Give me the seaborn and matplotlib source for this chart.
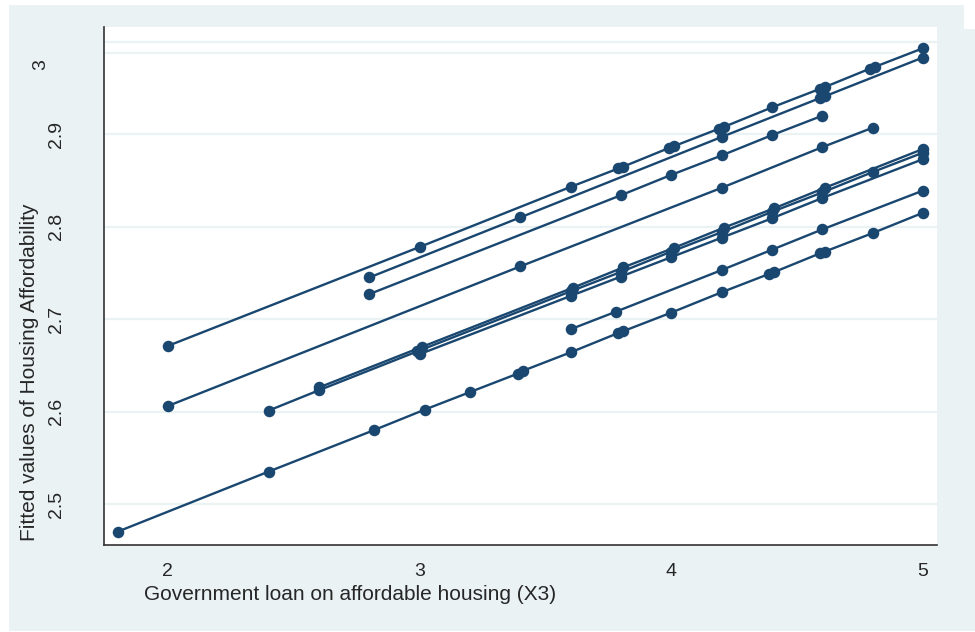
import numpy as np
import pandas as pd
import matplotlib
matplotlib.use("Agg")
import matplotlib.pyplot as plt
import matplotlib.transforms as mtransforms
from matplotlib.patches import Rectangle
import seaborn as sns

# ---- data ----
x_A = [2.0, 3.0, 3.6, 3.79, 3.81, 3.99, 4.01, 4.19, 4.21, 4.4, 4.59, 4.61, 4.79, 4.81, 5.0]
y_A = [2.671, 2.778, 2.843, 2.863, 2.865, 2.885, 2.887, 2.906, 2.908, 2.929, 2.949, 2.951, 2.971, 2.973, 2.993]

x_B = [2.8, 3.4, 4.2, 4.59, 4.61, 5.0]
y_B = [2.745, 2.810, 2.897, 2.939, 2.941, 2.983]

x_C = [2.8, 3.8, 4.0, 4.2, 4.4, 4.6]
y_C = [2.727, 2.834, 2.856, 2.877, 2.899, 2.920]

x_D = [2.0, 3.4, 4.2, 4.6, 4.8]
y_D = [2.606, 2.757, 2.842, 2.886, 2.907]

x_E1 = [2.4, 2.6, 2.99, 3.6, 3.8, 4.0, 4.2, 4.4, 4.6, 4.8, 5.0]
y_E1 = [2.601, 2.623, 2.665, 2.730, 2.751, 2.773, 2.794, 2.816, 2.837, 2.859, 2.880]

x_E2 = [2.6, 3.01, 3.61, 3.81, 4.01, 4.21, 4.41, 4.61, 5.0]
y_E2 = [2.626, 2.670, 2.734, 2.756, 2.777, 2.799, 2.820, 2.842, 2.884]

x_E3 = [3.0, 3.6, 3.8, 4.0, 4.2, 4.4, 4.6, 5.0]
y_E3 = [2.662, 2.725, 2.746, 2.767, 2.788, 2.809, 2.831, 2.873]

x_F = [3.6, 3.78, 4.2, 4.4, 4.6, 5.0]
y_F = [2.689, 2.708, 2.753, 2.775, 2.797, 2.839]

x_G = [1.8, 2.4, 2.82, 3.02, 3.2, 3.39, 3.41, 3.6, 3.79, 3.81, 4.0, 4.2, 4.39, 4.41, 4.59, 4.61, 4.8, 5.0]
y_G = [2.470, 2.535, 2.580, 2.602, 2.621, 2.641, 2.644, 2.664, 2.685, 2.687, 2.707, 2.729, 2.749, 2.751, 2.771, 2.773, 2.793, 2.815]

y_ticks = [2.5, 2.6, 2.7, 2.8, 2.9, 3.0]
y_tick_labels = ["2.5", "2.6", "2.7", "2.8", "2.9", "3"]
x_ticks = [2, 3, 4, 5]
x_tick_labels = ["2", "3", "4", "5"]

x_title = "Government loan on affordable housing (X3)"
y_title = "Fitted values of Housing Affordability"

groups = {"A": (x_A, y_A), "B": (x_B, y_B), "C": (x_C, y_C), "D": (x_D, y_D),
          "E1": (x_E1, y_E1), "E2": (x_E2, y_E2), "E3": (x_E3, y_E3),
          "F": (x_F, y_F), "G": (x_G, y_G)}
frames = [pd.DataFrame({"x": xs, "y": ys, "grp": g}) for g, (xs, ys) in groups.items()]
df = pd.concat(frames, ignore_index=True)

# ---- style ----
sns.set_style("white")
plt.rcParams["font.family"] = ["Liberation Sans", "DejaVu Sans"]

NAVY = "#1a476f"
BG = "#eaf2f3"

W, H = 975, 632
fig = plt.figure(figsize=(W / 100, H / 100), dpi=100)
fig.patch.set_facecolor("white")
fig.add_artist(Rectangle((9 / W, 1 - 631 / H), 955 / W, 626 / H, transform=fig.transFigure,
                         facecolor=BG, edgecolor="none", zorder=-10))
fig.add_artist(Rectangle((964 / W, 1 - 631 / H), 11 / W, 602 / H, transform=fig.transFigure,
                         facecolor=BG, edgecolor="none", zorder=-10))

left, right, top, bottom = 104, 937, 27, 545
ax = fig.add_axes([left / W, 1 - bottom / H, (right - left) / W, (bottom - top) / H])
ax.set_facecolor("white")

for yt in y_ticks:
    ax.axhline(yt, color=BG, lw=1.6, zorder=0)
ax.axhline(2.988, xmin=0, xmax=0.95, color=BG, lw=1.6, zorder=0)

sns.lineplot(data=df, x="x", y="y", units="grp", estimator=None, color=NAVY,
             lw=1.7, marker="o", markersize=8.3, markeredgewidth=0, ax=ax, zorder=3)

ax.set_xlim(1.746, 5.056)
ax.set_ylim(2.4556, 3.016)
ax.set_xticks(x_ticks)
ax.set_xticklabels(x_tick_labels, fontsize=14)
ax.set_yticks(y_ticks)
ax.set_yticklabels(y_tick_labels, fontsize=14, rotation=90, va="center")
ax.tick_params(axis="both", direction="out", length=6, width=1, color="#333333")
ax.tick_params(axis="y", pad=22)
ax.tick_params(axis="x", pad=7)

for side in ["top", "right"]:
    ax.spines[side].set_visible(False)
for side in ["left", "bottom"]:
    ax.spines[side].set_color("#333333")
    ax.spines[side].set_linewidth(1.2)

ax.set_xlabel(x_title, fontsize=15, va="center")
ax.xaxis.set_label_coords(0.295, -0.095)
ax.set_ylabel(y_title, fontsize=15, va="center")
ax.yaxis.set_label_coords(-0.09, 0.334)

# the "3" label sits lower/left in the reference
lab3 = ax.get_yticklabels()[-1]
lab3.set_transform(lab3.get_transform() + mtransforms.ScaledTranslation(-16 / 100, -23 / 100, fig.dpi_scale_trans))

fig.savefig("out.png", dpi=100)
